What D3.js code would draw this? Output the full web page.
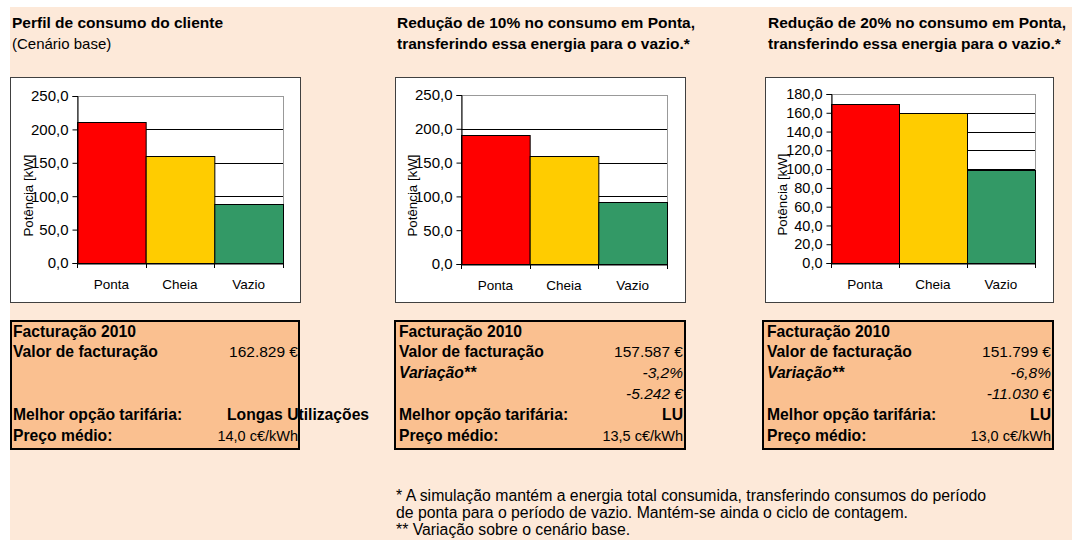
<!DOCTYPE html>
<html><head><meta charset="utf-8">
<script src="https://cdn.jsdelivr.net/npm/d3@7"></script>
<style>
html,body{margin:0;padding:0;background:#fff;}
svg{display:block;font-family:"Liberation Sans",Arial,sans-serif;}
</style></head>
<body><svg id="c" width="1072" height="540"></svg>
<script>
// ---- data ----
const categories = ["Ponta", "Cheia", "Vazio"];
const baseValues = [211.5, 160.0, 88.0];
const red10Values = [190.4, 160.0, 92.0];
const red20Values = [169.2, 160.0, 98.8];
const axisMax = [250, 250, 180];
const axisStep = [50, 50, 20];
const barColors = ["#FF0000", "#FFCC00", "#339966"];
const yTitle = "Potência [kW]";
const titles1 = ["Perfil de consumo do cliente", "Redução de 10% no consumo em Ponta,", "Redução de 20% no consumo em Ponta,"];
const titles2 = ["(Cenário base)", "transferindo essa energia para o vazio.*", "transferindo essa energia para o vazio.*"];
const rowLabels = ["Facturação 2010", "Valor de facturação", "Variação**", "", "Melhor opção tarifária:", "Preço médio:"];
const billValues = ["162.829 €", "157.587 €", "151.799 €"];
const varPct = ["", "-3,2%", "-6,8%"];
const varEur = ["", "-5.242 €", "-11.030 €"];
const bestOption = ["Longas Utilizações", "LU", "LU"];
const avgPrice = ["14,0 c€/kWh", "13,5 c€/kWh", "13,0 c€/kWh"];
const footnotes = ["* A simulação mantém a energia total consumida, transferindo consumos do período",
  "de ponta para o período de vazio. Mantém-se ainda o ciclo de contagem.",
  "** Variação sobre o cenário base."];

const series = [baseValues, red10Values, red20Values];

// ---- layout ----
const svg = d3.select("#c");
svg.append("rect").attr("x", 10).attr("y", 7).attr("width", 1062).attr("height", 533).attr("fill", "#FDE9D9");

const panels = [
  {tx: 12, box: {x: 10, y: 77, w: 290, h: 225}, plot: {l: 77, r: 283, t: 96, b: 263}, tab: {x: 10, w: 290, lx: 13, rx: 298}},
  {tx: 397, box: {x: 395, y: 77, w: 290, h: 225}, plot: {l: 461, r: 667, t: 95, b: 264}, tab: {x: 394, w: 292, lx: 399, rx: 683}},
  {tx: 768, box: {x: 765, y: 77, w: 288, h: 225}, plot: {l: 831, r: 1035, t: 94, b: 263}, tab: {x: 762, w: 292, lx: 767, rx: 1051}}
];

const fmt = v => d3.format(".1f")(v).replace(".", ",");

panels.forEach((p, i) => {
  // titles
  svg.append("text").attr("x", p.tx).attr("y", 28).attr("font-size", 15.5).attr("font-weight", "bold").attr("fill", "#000").text(titles1[i]);
  svg.append("text").attr("x", p.tx).attr("y", 49).attr("font-size", i === 0 ? 15 : 15.5)
     .attr("font-weight", i === 0 ? "normal" : "bold").attr("fill", "#000").text(titles2[i]);

  // chart box
  svg.append("rect").attr("x", p.box.x + 0.5).attr("y", p.box.y + 0.5).attr("width", p.box.w).attr("height", p.box.h)
     .attr("fill", "#fff").attr("stroke", "#404040").attr("stroke-width", 1);

  const x = d3.scaleBand().domain(categories).range([p.plot.l, p.plot.r]).padding(0);
  const y = d3.scaleLinear().domain([0, axisMax[i]]).range([p.plot.b, p.plot.t]);
  const ticks = d3.range(0, axisMax[i] + 0.001, axisStep[i]);

  const g = svg.append("g");
  g.append("rect").attr("x", p.plot.l + 0.5).attr("y", p.plot.t + 0.5).attr("width", p.plot.r - p.plot.l).attr("height", p.plot.b - p.plot.t)
     .attr("fill", "#fff").attr("stroke", "#999").attr("stroke-width", 1);
  g.selectAll(".grid").data(ticks.filter(t => t > 0 && t < axisMax[i])).enter().append("line")
     .attr("x1", p.plot.l).attr("x2", p.plot.r)
     .attr("y1", d => Math.round(y(d)) + 0.5).attr("y2", d => Math.round(y(d)) + 0.5)
     .attr("stroke", "#000").attr("stroke-width", 1);

  g.selectAll(".bar").data(series[i]).enter().append("rect")
     .attr("x", (d, j) => x(categories[j]) + 0.5)
     .attr("y", d => Math.round(y(d)) + 0.5)
     .attr("width", x.bandwidth())
     .attr("height", d => p.plot.b - Math.round(y(d)))
     .attr("fill", (d, j) => barColors[j]).attr("stroke", "#000").attr("stroke-width", 1);

  const ya = d3.axisLeft(y).tickValues(ticks).tickSize(5).tickPadding(4).tickFormat(fmt);
  const yg = g.append("g").attr("transform", `translate(${p.plot.l + 0.5},0)`).call(ya);
  yg.select(".domain").attr("stroke", "#000");
  yg.selectAll("line").attr("stroke", "#000");
  yg.selectAll("text").attr("font-size", i === 2 ? 14.5 : 15).attr("fill", "#000").attr("font-family", "Liberation Sans, Arial, sans-serif");

  const xa = d3.axisBottom(x).tickSize(0).tickPadding(16);
  const xg = g.append("g").attr("transform", `translate(0,${p.plot.b + 0.5})`).call(xa);
  xg.select(".domain").attr("stroke", "#000");
  xg.selectAll("text").attr("font-size", 13.5).attr("fill", "#000").attr("font-family", "Liberation Sans, Arial, sans-serif");
  const bounds = categories.map(c => x(c)).concat([x(categories[categories.length - 1]) + x.bandwidth()]);
  g.selectAll(".bt").data(bounds).enter().append("line")
     .attr("x1", d => Math.round(d) + 0.5).attr("x2", d => Math.round(d) + 0.5)
     .attr("y1", p.plot.b).attr("y2", p.plot.b + 5).attr("stroke", "#000");

  const cy = (p.plot.t + p.plot.b) / 2 + 16;
  g.append("text").attr("transform", `translate(${p.plot.l - 44},${cy}) rotate(-90)`)
     .attr("text-anchor", "middle").attr("font-size", 13.3).attr("fill", "#000").text(yTitle);

  // table
  const t = p.tab;
  svg.append("rect").attr("x", t.x + 1).attr("y", 321).attr("width", t.w - 2).attr("height", 128)
     .attr("fill", "#FAC090").attr("stroke", "#000").attr("stroke-width", 2);
  const rowY = [337, 357, 378, 399, 420, 441];
  rowLabels.forEach((lab, r) => {
    if (!lab) return;
    if (r === 2 && i === 0) return;
    svg.append("text").attr("x", t.lx).attr("y", rowY[r]).attr("font-size", 15.7).attr("font-weight", "bold")
       .attr("font-style", r === 2 ? "italic" : "normal").attr("fill", "#000").text(lab);
  });
  const right = (r, txt, opts = {}) => svg.append("text").attr("x", opts.x || t.rx).attr("y", rowY[r])
     .attr("text-anchor", opts.anchor || "end").attr("font-size", opts.size || 15.5)
     .attr("font-weight", opts.bold ? "bold" : "normal").attr("font-style", opts.italic ? "italic" : "normal")
     .attr("fill", "#000").text(txt);
  right(1, billValues[i]);
  if (varPct[i]) right(2, varPct[i], {italic: true});
  if (varEur[i]) right(3, varEur[i], {italic: true});
  if (i === 0) right(4, bestOption[i], {bold: true, anchor: "start", x: 227, size: 15.7});
  else right(4, bestOption[i], {bold: true, size: 15.7});
  right(5, avgPrice[i], {size: 14.5});
});

footnotes.forEach((f, k) => {
  svg.append("text").attr("x", 396).attr("y", 501 + k * 17).attr("font-size", 15.8).attr("fill", "#000").text(f);
});
</script></body></html>
